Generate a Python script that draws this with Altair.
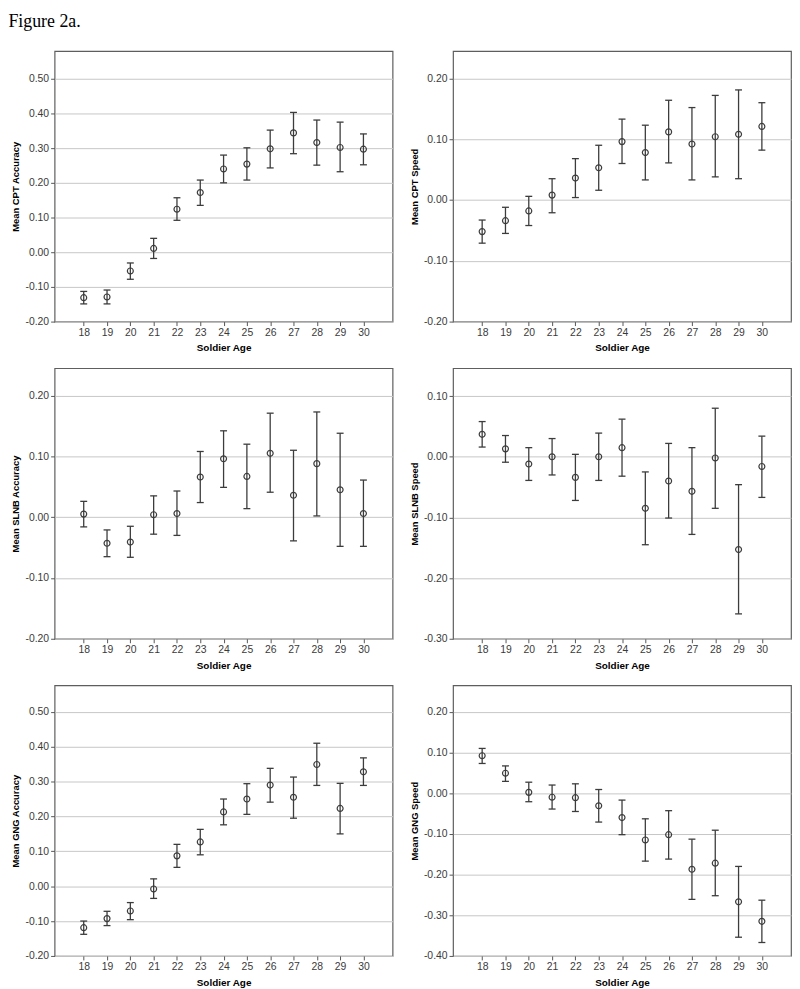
import altair as alt
import pandas as pd

ages = [18, 19, 20, 21, 22, 23, 24, 25, 26, 27, 28, 29, 30]

cpt_acc_mean = [-0.131, -0.129, -0.054, 0.011, 0.124, 0.172, 0.240, 0.254, 0.298, 0.344, 0.316, 0.302, 0.297]
cpt_acc_hi = [-0.113, -0.109, -0.031, 0.040, 0.157, 0.208, 0.280, 0.301, 0.352, 0.403, 0.381, 0.375, 0.341]
cpt_acc_lo = [-0.149, -0.149, -0.078, -0.018, 0.092, 0.135, 0.200, 0.208, 0.243, 0.284, 0.251, 0.232, 0.252]

cpt_spd_mean = [-0.052, -0.034, -0.018, 0.008, 0.036, 0.053, 0.096, 0.078, 0.112, 0.092, 0.104, 0.108, 0.121]
cpt_spd_hi = [-0.033, -0.012, 0.006, 0.035, 0.068, 0.090, 0.133, 0.123, 0.164, 0.152, 0.172, 0.181, 0.160]
cpt_spd_lo = [-0.071, -0.055, -0.042, -0.021, 0.004, 0.016, 0.060, 0.033, 0.061, 0.033, 0.038, 0.035, 0.082]

slnb_acc_mean = [0.005, -0.043, -0.041, 0.004, 0.006, 0.066, 0.096, 0.067, 0.105, 0.036, 0.088, 0.045, 0.006]
slnb_acc_hi = [0.026, -0.021, -0.015, 0.035, 0.043, 0.108, 0.142, 0.120, 0.171, 0.110, 0.173, 0.138, 0.061]
slnb_acc_lo = [-0.016, -0.065, -0.066, -0.028, -0.030, 0.024, 0.049, 0.014, 0.041, -0.039, 0.002, -0.048, -0.048]

slnb_spd_mean = [0.037, 0.013, -0.012, 0.000, -0.034, 0.000, 0.015, -0.085, -0.040, -0.057, -0.002, -0.153, -0.016]
slnb_spd_hi = [0.058, 0.035, 0.015, 0.030, 0.004, 0.039, 0.062, -0.025, 0.022, 0.015, 0.080, -0.046, 0.034]
slnb_spd_lo = [0.016, -0.009, -0.039, -0.030, -0.072, -0.039, -0.032, -0.145, -0.101, -0.128, -0.085, -0.259, -0.067]

gng_acc_mean = [-0.119, -0.093, -0.071, -0.008, 0.087, 0.127, 0.213, 0.250, 0.290, 0.255, 0.349, 0.223, 0.328]
gng_acc_hi = [-0.100, -0.072, -0.047, 0.021, 0.120, 0.163, 0.250, 0.294, 0.338, 0.313, 0.410, 0.295, 0.368]
gng_acc_lo = [-0.138, -0.113, -0.096, -0.035, 0.054, 0.090, 0.176, 0.206, 0.241, 0.195, 0.289, 0.150, 0.289]

gng_spd_mean = [0.092, 0.049, 0.002, -0.010, -0.011, -0.031, -0.060, -0.115, -0.102, -0.187, -0.172, -0.267, -0.315]
gng_spd_hi = [0.110, 0.067, 0.027, 0.020, 0.023, 0.009, -0.017, -0.063, -0.043, -0.113, -0.091, -0.180, -0.263]
gng_spd_lo = [0.073, 0.029, -0.021, -0.039, -0.045, -0.071, -0.102, -0.167, -0.162, -0.261, -0.252, -0.354, -0.367]

ticks_acc = [-0.2, -0.1, 0.0, 0.1, 0.2, 0.3, 0.4, 0.5]
ticks_cpt_spd = [-0.2, -0.1, 0.0, 0.1, 0.2]
ticks_slnb_acc = [-0.2, -0.1, 0.0, 0.1, 0.2]
ticks_slnb_spd = [-0.3, -0.2, -0.1, 0.0, 0.1]
ticks_gng_spd = [-0.4, -0.3, -0.2, -0.1, 0.0, 0.1, 0.2]

INK = "#3c3c3c"
LABEL_EXPR = "replace(format(datum.value, '.2f'), '\u2212', '-')"


def panel(title, mean, lo, hi, domain, ticks):
    df = pd.DataFrame({"age": ages, "mean": mean, "lo": lo, "hi": hi})
    xs = alt.Scale(domain=[16.75, 31.25], nice=False, zero=False)
    xa = alt.Axis(values=ages, title="Soldier Age", grid=False, domain=False,
                  tickSize=4, labelPadding=2, titlePadding=5, format="d")
    ys = alt.Scale(domain=domain, nice=False, zero=False)
    ya = alt.Axis(values=ticks, title=title, grid=True, domain=False,
                  labelExpr=LABEL_EXPR)

    def X(f="age"):
        return alt.X(f + ":Q", scale=xs, axis=xa)

    def Y(f):
        return alt.Y(f + ":Q", scale=ys, axis=ya)

    base = alt.Chart(df)
    bars = base.mark_rule(color=INK, strokeWidth=1.3).encode(
        x=X(), y=Y("lo"), y2="hi:Q")
    cap_hi = base.mark_rule(color=INK, strokeWidth=1.3, xOffset=-3.5, x2Offset=3.5).encode(
        x=X(), x2="age:Q", y=Y("hi"))
    cap_lo = base.mark_rule(color=INK, strokeWidth=1.3, xOffset=-3.5, x2Offset=3.5).encode(
        x=X(), x2="age:Q", y=Y("lo"))
    pts = base.mark_point(shape="circle", filled=False, size=36, color=INK,
                          strokeWidth=1.2, opacity=1).encode(x=X(), y=Y("mean"))
    return alt.layer(bars, cap_hi, cap_lo, pts).properties(width=341, height=273)


p1 = panel("Mean CPT Accuracy", cpt_acc_mean, cpt_acc_lo, cpt_acc_hi, [-0.2, 0.58], ticks_acc)
p2 = panel("Mean CPT Speed", cpt_spd_mean, cpt_spd_lo, cpt_spd_hi, [-0.2, 0.245], ticks_cpt_spd)
p3 = panel("Mean SLNB Accuracy", slnb_acc_mean, slnb_acc_lo, slnb_acc_hi, [-0.2, 0.245], ticks_slnb_acc)
p4 = panel("Mean SLNB Speed", slnb_spd_mean, slnb_spd_lo, slnb_spd_hi, [-0.3, 0.146], ticks_slnb_spd)
p5 = panel("Mean GNG Accuracy", gng_acc_mean, gng_acc_lo, gng_acc_hi, [-0.2, 0.576], ticks_acc)
p6 = panel("Mean GNG Speed", gng_spd_mean, gng_spd_lo, gng_spd_hi, [-0.4, 0.265], ticks_gng_spd)

row1 = alt.hconcat(p1, p2, spacing=15)
row2 = alt.hconcat(p3, p4, spacing=15)
row3 = alt.hconcat(p5, p6, spacing=15)

chart = alt.vconcat(row1, row2, row3, spacing=13).properties(
    title=alt.Title("Figure 2a.", anchor="start", font="Liberation Serif", fontSize=18,
                    fontWeight="normal", color="black", offset=20, dx=-2),
    background="white",
    padding=0,
).configure_view(
    stroke="#5e5e5e", strokeWidth=1.2
).configure_axis(
    labelFont="Liberation Sans", labelFontSize=10.5, labelColor="#3a3a3a",
    titleFont="Liberation Sans", titleFontSize=10, titleFontWeight="bold", titleColor="black",
    tickColor="#555555", gridColor="#c6c6c6", gridWidth=1,
).configure_axisY(
    tickSize=4, labelPadding=2, minExtent=33, maxExtent=33, titlePadding=1, titleFontSize=9.5,
)

chart.save("out.html", embed_options={"renderer": "svg", "actions": False})
